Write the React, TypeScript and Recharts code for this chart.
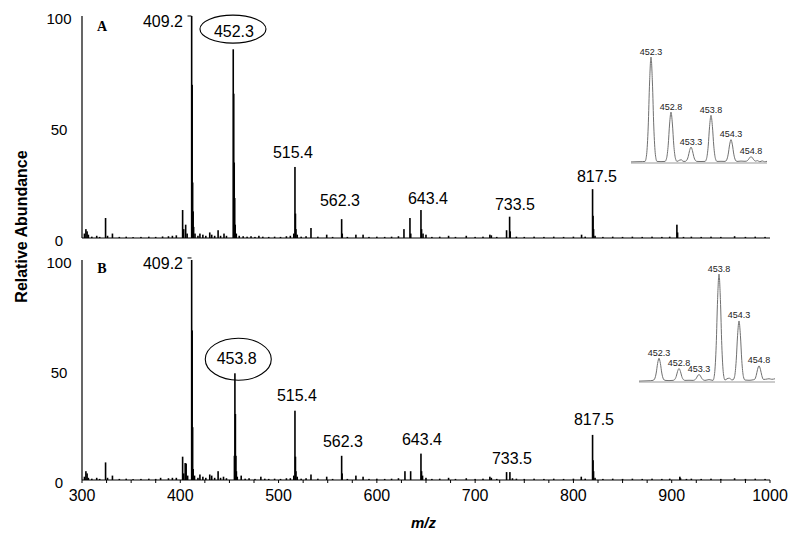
import React from "react";
import { ComposedChart, Bar, XAxis, YAxis, ReferenceDot, LineChart, Line } from "recharts";

const FONT = '"Liberation Sans", Arial, Helvetica, sans-serif';

// x axis ticks (m/z), labelled every 100
const mzTicks = [
  300, 325, 350, 375, 400, 425, 450, 475, 500, 525, 550, 575, 600, 625, 650, 675,
  700, 725, 750, 775, 800, 825, 850, 875, 900, 925, 950, 975, 1000,
];
const abTicks = [0, 50, 100];

// spectrum A: [m/z, relative abundance]
const peaksA: [number, number][] = [
  [302.5, 2], [304, 4], [305.2, 3], [306.5, 1.5], [310, 0.6], [315, 1], [318, 0.5],
  [324, 9], [326, 1], [331, 2], [338, 0.5], [345, 0.6], [352, 0.4], [360, 0.5], [368, 0.6],
  [375, 0.5], [382, 0.7], [388, 0.8], [392, 1], [396, 1.2],
  [402.4, 12.6], [403.5, 4], [405.5, 6], [407, 2],
  [411.6, 100], [412.1, 69], [412.6, 25], [413.1, 12], [413.6, 5], [415, 2],
  [418, 1], [420, 2], [423, 1.5], [426, 1], [430, 2.5], [432, 1.5], [435, 1], [438.5, 3.5],
  [441, 1], [444.5, 2], [447, 1],
  [453.9, 85], [454.4, 65], [454.9, 34], [455.4, 18], [455.9, 6], [457, 2],
  [460, 1], [464, 0.8], [468, 0.6], [472, 0.8], [476, 0.5], [480, 1], [484, 0.6], [490, 0.5],
  [496, 0.6], [502, 0.5], [508, 0.8], [512, 1],
  [515.5, 2], [516.7, 32], [517.2, 11], [517.7, 4], [519, 1.5],
  [523, 0.6], [528, 0.8], [533, 4.5], [540, 0.6], [549, 1.5], [555, 0.5],
  [564.2, 8.5], [564.8, 2], [570, 0.5], [578.7, 1.5], [586, 1.5], [592, 0.5], [600, 0.6],
  [608, 0.5], [615, 0.6], [622, 0.8],
  [627.6, 4], [633.7, 9], [634.5, 2], [644.9, 12.6], [645.5, 4], [647, 2], [650, 1.5],
  [656, 0.5], [664, 0.6], [673, 1], [680, 0.5], [691, 1], [700, 0.5], [708, 0.6],
  [715, 1.5], [716.5, 1.2], [722, 0.5],
  [732, 3.5], [735.1, 9.6], [735.7, 3], [742, 0.6], [750, 0.5], [760, 0.6], [770, 0.5],
  [780, 0.6], [790, 0.5], [800, 0.6], [808.3, 1.5], [812, 0.6],
  [819.5, 22], [820, 10], [820.5, 4], [822, 1], [830, 0.5], [840, 0.6], [850, 0.5],
  [860, 0.6], [870, 0.5], [880, 0.6], [890, 0.5], [898, 0.6],
  [905.3, 6], [906, 2.5], [912, 0.5], [920, 0.6], [930, 0.5], [940, 0.6], [950, 0.5],
  [964, 0.8], [975, 0.5], [985, 0.6], [995, 0.5],
];

// spectrum B
const peaksB: [number, number][] = [
  [302.5, 1.5], [304, 4], [305.2, 3], [306.5, 1], [310, 0.6], [315, 1], [318, 0.5],
  [324, 8], [326, 1], [331, 2], [338, 0.5], [345, 0.6], [352, 0.4], [360, 0.5], [368, 0.6],
  [375, 0.5], [380, 1], [388, 0.8], [392, 1], [396, 1],
  [402.4, 10.6], [403.5, 3], [405, 7.7], [406, 7.5], [407.5, 2],
  [411.6, 100], [412.1, 68], [412.6, 24], [413.1, 5], [414.5, 2],
  [418, 1], [420, 2.5], [423, 1.5], [426, 1], [430, 2.5], [432, 2], [435, 1], [438.5, 4],
  [441, 1], [444, 1.5], [447, 0.8],
  [455.1, 11], [455.6, 48.5], [456.1, 30], [456.6, 11], [457.1, 4], [458, 1.5],
  [462, 2], [466, 0.6], [470, 0.8], [476, 0.5], [482, 1.5], [486, 0.6], [490, 0.5],
  [496, 0.6], [502, 0.5], [508, 0.8], [512, 0.8],
  [515.5, 2], [516.7, 31.5], [517.2, 10.6], [517.7, 4], [519, 1.5],
  [523, 0.6], [528, 0.8], [533, 2.5], [540, 0.6], [549, 1.5], [555, 0.5],
  [564.2, 11], [564.7, 3], [570, 0.5], [578.7, 2], [586, 1.5], [592, 0.5], [600, 0.6],
  [608, 0.5], [615, 0.6], [622, 0.8],
  [628.6, 4], [634.4, 4], [644.9, 12], [645.5, 4], [646.5, 2], [650, 1],
  [656, 0.5], [664, 0.6], [673, 1], [680, 0.5], [691, 0.8], [700, 0.5], [708, 0.6],
  [715, 1.5], [716.5, 1], [722, 0.5],
  [732, 3.6], [735.4, 3.6], [738, 0.8], [742, 0.6], [750, 0.5], [760, 0.6], [770, 0.5],
  [780, 0.6], [790, 0.5], [800, 0.6], [808, 1.5], [812, 0.6],
  [819.5, 20.5], [820, 9], [820.5, 4], [822, 1], [830, 0.5], [840, 0.6], [850, 0.5],
  [860, 0.6], [870, 0.5], [880, 0.6], [890, 0.5], [898, 0.6],
  [908.3, 1.5], [909, 0.8], [915, 0.5], [920, 0.6], [930, 0.5], [940, 0.6], [950, 0.5],
  [964, 0.8], [975, 0.5], [985, 0.6], [995, 0.5],
];

// peak labels placed in data coordinates
const labelsA = [
  { text: "409.2", mz: 382.4, ab: 97.3, hook: true },
  { text: "515.4", mz: 514.6, ab: 38.3 },
  { text: "562.3", mz: 562.5, ab: 16.7 },
  { text: "643.4", mz: 652, ab: 17.6 },
  { text: "733.5", mz: 740.5, ab: 15.3 },
  { text: "817.5", mz: 823.9, ab: 27.5 },
  { text: "452.3", mz: 454.6, ab: 92.8 },
];
const ellipseA = { mz: 453.6, ab: 94.1, rx: 33, ry: 14 };

const labelsB = [
  { text: "409.2", mz: 382.4, ab: 98.2, hook: true },
  { text: "515.4", mz: 518.7, ab: 38.2 },
  { text: "562.3", mz: 565.5, ab: 17.7 },
  { text: "643.4", mz: 645.9, ab: 18.2 },
  { text: "733.5", mz: 737.4, ab: 10 },
  { text: "817.5", mz: 820.9, ab: 27.3 },
  { text: "453.8", mz: 457.4, ab: 55.3 },
];
const ellipseB = { mz: 459, ab: 54.9, rx: 33, ry: 21 };

// zoomed isotope envelopes (insets)
const insetTicks = [452, 453, 454, 455];
const insetA: [number, number][] = [
  [451.8, 1.0], [451.95, 1.2], [452.08, 1.3], [452.15, 1.5], [452.19, 7.9], [452.23, 34],
  [452.265, 76.4], [452.3, 100], [452.335, 76.4], [452.37, 34], [452.41, 7.9], [452.45, 1.5],
  [452.55, 1.3], [452.65, 1.5], [452.69, 4.5], [452.73, 16.8], [452.765, 36.8], [452.8, 48],
  [452.835, 36.8], [452.87, 16.8], [452.91, 4.5], [452.95, 1.5], [453.02, 2.8], [453.06, 3],
  [453.1, 1.6], [453.15, 1.5], [453.19, 2.4], [453.23, 6], [453.265, 11.8], [453.3, 15],
  [453.335, 11.8], [453.37, 6], [453.41, 2.4], [453.45, 1.5], [453.55, 1.4], [453.65, 1.5],
  [453.69, 4.3], [453.73, 15.9], [453.765, 34.6], [453.8, 45], [453.835, 34.6], [453.87, 15.9],
  [453.91, 4.3], [453.95, 1.5], [454.05, 1.6], [454.15, 1.5], [454.19, 2.8], [454.23, 8.3],
  [454.265, 17.1], [454.3, 22], [454.335, 17.1], [454.37, 8.3], [454.41, 2.8], [454.45, 1.5],
  [454.55, 1.8], [454.65, 1.6], [454.69, 1.8], [454.73, 3], [454.765, 4.9], [454.8, 6],
  [454.835, 4.9], [454.87, 3], [454.91, 1.8], [454.96, 2.2], [455.02, 1.2], [455.08, 2],
  [455.14, 1.2], [455.2, 1.6],
];
const insetB: [number, number][] = [
  [451.8, 0.8], [451.95, 1], [452.08, 1.2], [452.15, 1.5], [452.19, 2.8], [452.23, 8.3],
  [452.265, 17.1], [452.3, 22], [452.335, 17.1], [452.37, 8.3], [452.41, 2.8], [452.45, 1.5],
  [452.55, 1.3], [452.65, 1.5], [452.69, 2.2], [452.73, 5.1], [452.765, 9.9], [452.8, 12.5],
  [452.835, 9.9], [452.87, 5.1], [452.91, 2.2], [452.95, 1.5], [453.05, 1.6], [453.15, 1.5],
  [453.19, 1.9], [453.23, 3.3], [453.265, 5.7], [453.3, 7], [453.335, 5.7], [453.37, 3.3],
  [453.41, 1.9], [453.45, 1.5], [453.55, 2.2], [453.65, 1.5], [453.69, 7.9], [453.73, 34],
  [453.765, 76.4], [453.8, 100], [453.835, 76.4], [453.87, 34], [453.91, 7.9], [453.95, 1.8],
  [454.0, 3], [454.06, 3.5], [454.12, 2], [454.15, 2], [454.19, 5.1], [454.23, 19.7],
  [454.265, 43.3], [454.3, 56.5], [454.335, 43.3], [454.37, 19.7], [454.41, 5.1], [454.45, 1.8],
  [454.55, 1.6], [454.65, 2], [454.69, 2.4], [454.73, 6], [454.765, 11.8], [454.8, 15],
  [454.835, 11.8], [454.87, 6], [454.91, 2.4], [454.96, 2.5], [455.05, 3], [455.12, 2.5],
  [455.2, 3],
];
const insetLabelsA = [
  { text: "452.3", mz: 452.3, v: 100 },
  { text: "452.8", mz: 452.8, v: 48 },
  { text: "453.3", mz: 453.3, v: 15 },
  { text: "453.8", mz: 453.8, v: 45 },
  { text: "454.3", mz: 454.3, v: 22 },
  { text: "454.8", mz: 454.8, v: 6 },
];
const insetLabelsB = [
  { text: "452.3", mz: 452.3, v: 22 },
  { text: "452.8", mz: 452.8, v: 12.5 },
  { text: "453.3", mz: 453.3, v: 7 },
  { text: "453.8", mz: 453.8, v: 100 },
  { text: "454.3", mz: 454.3, v: 56.5 },
  { text: "454.8", mz: 454.8, v: 15 },
];

const toRows = (pts: [number, number][]) => pts.map(([mz, ab]) => ({ mz, ab }));
const toInset = (pts: [number, number][]) => pts.map(([mz, v]) => ({ mz, v }));

const Stick = (p: any) => {
  const { x, y, width, height } = p;
  if (x == null || y == null || !isFinite(height)) return <g />;
  return <rect x={x + (width || 0) / 2 - 0.8} y={y} width={1.6} height={Math.max(height, 0.6)} fill="#000" />;
};

const YTick = (p: any) => (
  <text x={p.x} y={p.y} dy={2} textAnchor="middle" dominantBaseline="central" fontSize={15} fontFamily={FONT} fill="#000">
    {p.payload.value}
  </text>
);

const XTick = (p: any) => {
  const v = p.payload.value;
  if (v % 100 !== 0) return <g />;
  return (
    <text x={p.x} y={p.y} dy="0.71em" textAnchor="middle" fontSize={16} fontFamily={FONT} fill="#000">
      {v}
    </text>
  );
};

const peakLabel = (text: string, hook?: boolean) => (p: any) => (
  <g>
    <text x={p.cx} y={p.cy} textAnchor="middle" dominantBaseline="central" fontSize={16} fontFamily={FONT} fill="#000">
      {text}
    </text>
    {hook && <line x1={p.cx + 24.5} x2={p.cx + 28.5} y1={p.cy - 6} y2={p.cy - 6} stroke="#000" strokeWidth={1} />}
  </g>
);

const ellipseShape = (rx: number, ry: number) => (p: any) => (
  <ellipse cx={p.cx} cy={p.cy} rx={rx} ry={ry} fill="none" stroke="#000" strokeWidth={1.1} />
);

const insetLabel = (text: string) => (p: any) => (
  <text x={p.cx} y={p.cy - 2.5} textAnchor="middle" fontSize={9} fontFamily={FONT} fill="#222">
    {text}
  </text>
);

function Spectrum({ rows, labels, ellipse, bottom }: any) {
  return (
    <ComposedChart
      width={800}
      height={bottom ? 290 : 260}
      data={rows}
      margin={{ top: 16, right: 30, bottom: bottom ? 24 : 2, left: 22 }}
    >
      <XAxis
        type="number"
        dataKey="mz"
        domain={[300, 1000]}
        ticks={mzTicks}
        interval={0}
        allowDataOverflow
        height={bottom ? 30 : 20}
        tickSize={3}
        tickMargin={7}
        axisLine={{ stroke: "#000", strokeWidth: 1.2 }}
        tickLine={{ stroke: "#000" }}
        tick={bottom ? <XTick /> : false}
      />
      <YAxis
        type="number"
        domain={[0, 100]}
        ticks={abTicks}
        width={60}
        tickLine={false}
        tickSize={15}
        tickMargin={8}
        axisLine={{ stroke: "#000", strokeWidth: 1.2 }}
        tick={<YTick />}
      />
      <Bar dataKey="ab" isAnimationActive={false} barSize={2} shape={Stick} />
      <ReferenceDot x={ellipse.mz} y={ellipse.ab} r={0} ifOverflow="visible" shape={ellipseShape(ellipse.rx, ellipse.ry)} />
      {labels.map((l: any) => (
        <ReferenceDot key={l.text} x={l.mz} y={l.ab} r={0} ifOverflow="visible" shape={peakLabel(l.text, l.hook)} />
      ))}
    </ComposedChart>
  );
}

function Inset({ pts, labels, height, bottomMargin }: any) {
  return (
    <LineChart width={156} height={height} data={toInset(pts)} margin={{ top: 20, right: 10, left: 10, bottom: bottomMargin }}>
      <XAxis
        type="number"
        dataKey="mz"
        domain={[451.8, 455.2]}
        ticks={insetTicks}
        interval={0}
        allowDataOverflow
        height={10}
        tickSize={3}
        tick={false}
        axisLine={{ stroke: "#999" }}
        tickLine={{ stroke: "#999" }}
      />
      <YAxis hide domain={[0, 100]} />
      <Line type="monotone" dataKey="v" stroke="#707070" strokeWidth={1} dot={false} isAnimationActive={false} />
      {labels.map((l: any) => (
        <ReferenceDot key={l.text} x={l.mz} y={l.v} r={0} ifOverflow="visible" shape={insetLabel(l.text)} />
      ))}
    </LineChart>
  );
}

export default function App() {
  return (
    <div style={{ position: "absolute", left: 0, top: 0, width: 800, height: 534, background: "#fff", fontFamily: FONT }}>
      <div style={{ position: "absolute", left: 0, top: 0 }}>
        <Spectrum rows={toRows(peaksA)} labels={labelsA} ellipse={ellipseA} bottom={false} />
      </div>
      <div style={{ position: "absolute", left: 0, top: 244 }}>
        <Spectrum rows={toRows(peaksB)} labels={labelsB} ellipse={ellipseB} bottom />
      </div>
      <div style={{ position: "absolute", left: 621, top: 37 }}>
        <Inset pts={insetA} labels={insetLabelsA} height={140} bottomMargin={4} />
      </div>
      <div style={{ position: "absolute", left: 629, top: 254 }}>
        <Inset pts={insetB} labels={insetLabelsB} height={145} bottomMargin={7} />
      </div>
      <svg width={800} height={534} style={{ position: "absolute", left: 0, top: 0, pointerEvents: "none" }}>
        <text
          transform="translate(21,226.5) rotate(-90)"
          textAnchor="middle"
          dominantBaseline="central"
          fontSize={16}
          fontWeight="bold"
          fontFamily={FONT}
          fill="#000"
        >
          Relative Abundance
        </text>
        <text x={423.5} y={522} textAnchor="middle" dominantBaseline="central" fontSize={15} fontWeight="bold" fontStyle="italic" fontFamily={FONT} fill="#000">
          m/z
        </text>
        <text x={102} y={26} textAnchor="middle" dominantBaseline="central" fontSize={14} fontWeight="bold" fontFamily='"Liberation Serif", "Times New Roman", serif' fill="#000">
          A
        </text>
        <text x={102} y={268} textAnchor="middle" dominantBaseline="central" fontSize={14} fontWeight="bold" fontFamily='"Liberation Serif", "Times New Roman", serif' fill="#000">
          B
        </text>
      </svg>
    </div>
  );
}
